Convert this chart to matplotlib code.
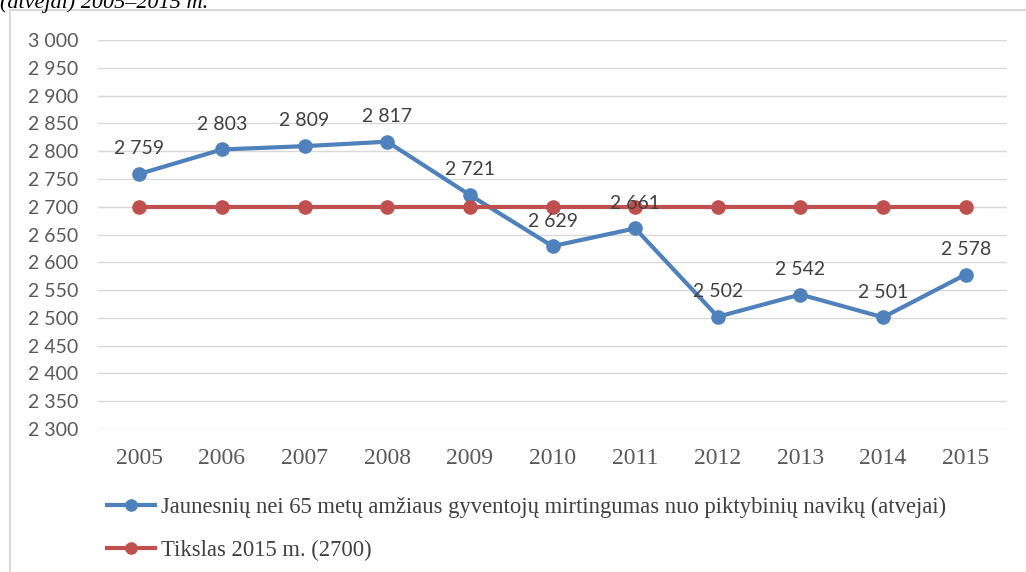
import matplotlib.pyplot as plt
from matplotlib.patches import Rectangle
from matplotlib.ticker import FuncFormatter

# data
years = ['2005', '2006', '2007', '2008', '2009', '2010', '2011', '2012', '2013', '2014', '2015']
deaths = [2759, 2803, 2809, 2817, 2721, 2629, 2661, 2502, 2542, 2501, 2578]
target = [2700] * 11
deaths_label = 'Jaunesnių nei 65 metų amžiaus gyventojų mirtingumas nuo piktybinių navikų (atvejai)'
target_label = 'Tikslas 2015 m. (2700)'

BLUE = '#4F81BD'
RED = '#C0504D'
GREY = '#595959'
SERIF = ['Liberation Serif', 'DejaVu Serif']
SANS = ['Lato', 'DejaVu Sans']

fig = plt.figure(figsize=(10.26, 5.72), dpi=100)
ax = fig.add_axes([98/1026, 1 - 429/572, (1007 - 98)/1026, (429 - 40)/572])

x = list(range(len(years)))
l1, = ax.plot(x, deaths, color=BLUE, lw=3, marker='o', ms=9.5, zorder=3)
l2, = ax.plot(x, target, color=RED, lw=3, marker='o', ms=9.5, zorder=4)

# data labels above the blue points
for xi, v in zip(x, deaths):
    ax.annotate(f'{v:,}'.replace(',', ' '), (xi, v), xytext=(0, 12), textcoords='offset points',
                ha='center', va='bottom', fontsize=14, family=SANS, color='#404040', zorder=5)

ax.set_xlim(-0.5, len(years) - 0.5)
ax.set_ylim(2300, 3000)
ax.set_yticks(range(2300, 3001, 50))
ax.yaxis.set_major_formatter(FuncFormatter(lambda v, p: f'{int(v):,}'.replace(',', ' ')))
ax.set_xticks(x)
ax.set_xticklabels(years)
ax.grid(axis='y', color='#d9d9d9', lw=1)
ax.set_axisbelow(True)
for s in ax.spines.values():
    s.set_visible(False)
ax.tick_params(length=0, colors=GREY)
ax.tick_params(axis='y', pad=14, labelsize=14)
ax.tick_params(axis='x', pad=14, labelsize=17)
for t in ax.get_yticklabels():
    t.set_family(SANS)
for t in ax.get_xticklabels():
    t.set_family(SERIF)

leg = fig.legend([l1, l2], [deaths_label, target_label], loc='upper left',
                 bbox_to_anchor=(107/1026, 1 - 497/572), frameon=False,
                 prop={'family': SERIF, 'size': 16.3}, handlelength=2.1,
                 handletextpad=0.3, labelspacing=0.95, borderpad=0, borderaxespad=0,
                 markerscale=0.85)
for t in leg.get_texts():
    t.set_color('#404040')

# outer chart frame and the cut-off heading above it
fig.patches.append(Rectangle((10/1026, -0.1), 1.2, 1.1 - 10/572, transform=fig.transFigure,
                             fill=False, edgecolor='#d9d9d9', lw=1.5))
fig.text(0.0, 1 - 8/572, '(atvejai) 2005–2015 m.', fontsize=16, style='italic',
         family=SERIF, va='baseline', ha='left', color='black')

fig.savefig('out.png', dpi=100)
